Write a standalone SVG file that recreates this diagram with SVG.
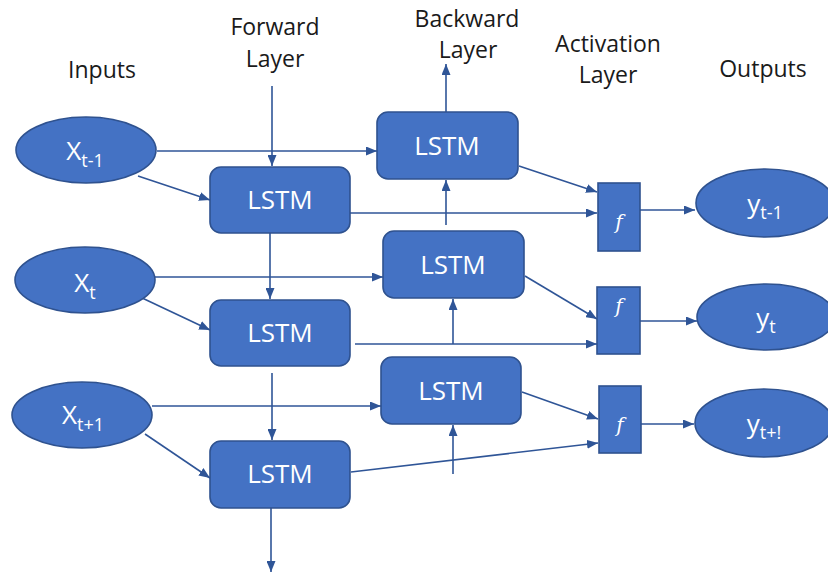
<svg xmlns="http://www.w3.org/2000/svg" width="828" height="574" viewBox="0 0 828 574">
  <defs>
    <marker id="arrow" markerUnits="userSpaceOnUse" markerWidth="11" markerHeight="9" refX="11" refY="4.5" orient="auto">
      <path d="M0,0 L11,4.5 L0,9 z" fill="#2F5597"/>
    </marker>
    <style>
      .node { fill: #4472C4; stroke: #2F528F; stroke-width: 1.6; }
      .lbl { font-family: "Open Sans", "Liberation Sans", sans-serif; font-size: 23px; fill: #1a1a1a; text-anchor: middle; }
      .in { font-family: "Open Sans", "Liberation Sans", sans-serif; font-size: 26px; font-weight: 500; fill: #ffffff; text-anchor: middle; }
      .sub { font-size: 18px; }
      .cell { font-family: "Open Sans", "Liberation Sans", sans-serif; font-size: 26px; font-weight: 500; fill: #ffffff; text-anchor: middle; }
      .fn { font-family: "DejaVu Serif", "Liberation Serif", serif; font-style: italic; font-size: 20px; fill: #ffffff; text-anchor: middle; }
      .wire { fill: none; stroke: #2F5597; stroke-width: 1.6; }
      .arr { marker-end: url(#arrow); }
    </style>
  </defs>

  <rect width="828" height="574" fill="#ffffff"/>

  <!-- column headings -->
  <g id="headings">
    <text class="lbl" x="102" y="78">Inputs</text>
    <text class="lbl" x="275" y="35">Forward</text>
    <text class="lbl" x="275" y="67">Layer</text>
    <text class="lbl" x="467" y="27">Backward</text>
    <text class="lbl" x="468" y="58">Layer</text>
    <text class="lbl" x="608" y="52">Activation</text>
    <text class="lbl" x="608" y="83">Layer</text>
    <text class="lbl" x="763" y="77">Outputs</text>
  </g>

  <!-- connectors -->
  <g id="connectors">
    <!-- into forward layer -->
    <line class="wire arr" x1="272" y1="86" x2="272" y2="166"/>
    <!-- inputs to backward cells -->
    <line class="wire arr" x1="157" y1="151" x2="377" y2="151"/>
    <line class="wire arr" x1="155" y1="277" x2="383" y2="277"/>
    <line class="wire arr" x1="152" y1="406" x2="381" y2="406"/>
    <!-- inputs to forward cells -->
    <line class="wire arr" x1="138" y1="176" x2="210" y2="200"/>
    <line class="wire arr" x1="140" y1="297" x2="210" y2="330"/>
    <line class="wire arr" x1="145" y1="434" x2="210" y2="478"/>
    <!-- forward chain -->
    <line class="wire arr" x1="270" y1="233" x2="270" y2="299"/>
    <line class="wire arr" x1="272" y1="373" x2="272" y2="440"/>
    <line class="wire arr" x1="271" y1="508" x2="271" y2="572"/>
    <!-- forward cells to activations -->
    <line class="wire arr" x1="350" y1="213" x2="597" y2="213"/>
    <line class="wire arr" x1="355" y1="344" x2="597" y2="344"/>
    <line class="wire arr" x1="351" y1="472" x2="598" y2="443"/>
    <!-- backward chain -->
    <line class="wire arr" x1="453" y1="474" x2="453" y2="425"/>
    <line class="wire arr" x1="453" y1="344" x2="453" y2="299"/>
    <line class="wire arr" x1="446" y1="225" x2="446" y2="180"/>
    <line class="wire arr" x1="446" y1="112" x2="446" y2="64"/>
    <!-- backward cells to activations -->
    <line class="wire arr" x1="519" y1="166" x2="597" y2="192"/>
    <line class="wire arr" x1="525" y1="276" x2="597" y2="319"/>
    <line class="wire arr" x1="522" y1="392" x2="598" y2="419"/>
    <!-- activations to outputs -->
    <line class="wire arr" x1="640" y1="210" x2="695" y2="210"/>
    <line class="wire arr" x1="640" y1="321" x2="697" y2="321"/>
    <line class="wire arr" x1="641" y1="424" x2="694" y2="424"/>
  </g>

  <!-- inputs -->
  <g id="x_t-1">
    <ellipse class="node" cx="86" cy="150" rx="70" ry="33"/>
    <text class="in" x="85" y="160">X<tspan class="sub" dy="7">t-1</tspan></text>
  </g>
  <g id="x_t">
    <ellipse class="node" cx="85" cy="280" rx="70" ry="33"/>
    <text class="in" x="85" y="292">X<tspan class="sub" dy="7">t</tspan></text>
  </g>
  <g id="x_t+1">
    <ellipse class="node" cx="82" cy="415" rx="70" ry="33"/>
    <text class="in" x="83" y="424">X<tspan class="sub" dy="7">t+1</tspan></text>
  </g>

  <!-- forward layer -->
  <g id="fwd_1">
    <rect class="node" x="210" y="167" width="140" height="66" rx="11"/>
    <text class="cell" x="280" y="209">LSTM</text>
  </g>
  <g id="fwd_2">
    <rect class="node" x="210" y="300" width="140" height="66" rx="11"/>
    <text class="cell" x="280" y="342">LSTM</text>
  </g>
  <g id="fwd_3">
    <rect class="node" x="210" y="441" width="140" height="67" rx="11"/>
    <text class="cell" x="280" y="483">LSTM</text>
  </g>

  <!-- backward layer -->
  <g id="bwd_1">
    <rect class="node" x="377" y="112" width="141" height="67" rx="11"/>
    <text class="cell" x="447" y="155">LSTM</text>
  </g>
  <g id="bwd_2">
    <rect class="node" x="383" y="231" width="141" height="67" rx="11"/>
    <text class="cell" x="453" y="274">LSTM</text>
  </g>
  <g id="bwd_3">
    <rect class="node" x="381" y="357" width="140" height="67" rx="11"/>
    <text class="cell" x="451" y="400">LSTM</text>
  </g>

  <!-- activation layer -->
  <g id="act_1">
    <rect class="node" x="598" y="183" width="42" height="68"/>
    <text class="fn" x="619" y="229">f</text>
  </g>
  <g id="act_2">
    <rect class="node" x="597" y="287" width="43" height="67"/>
    <text class="fn" x="619" y="313">f</text>
  </g>
  <g id="act_3">
    <rect class="node" x="599" y="386" width="42" height="67"/>
    <text class="fn" x="620" y="432">f</text>
  </g>

  <!-- outputs -->
  <g id="y_t-1">
    <ellipse class="node" cx="765" cy="203" rx="69" ry="34"/>
    <text class="in" x="765" y="213">y<tspan class="sub" dy="6">t-1</tspan></text>
  </g>
  <g id="y_t">
    <ellipse class="node" cx="766" cy="317" rx="69" ry="33"/>
    <text class="in" x="766" y="327">y<tspan class="sub" dy="6">t</tspan></text>
  </g>
  <g id="y_t+1">
    <ellipse class="node" cx="764" cy="423" rx="69" ry="34"/>
    <text class="in" x="764" y="433">y<tspan class="sub" dy="6">t+!</tspan></text>
  </g>
</svg>
